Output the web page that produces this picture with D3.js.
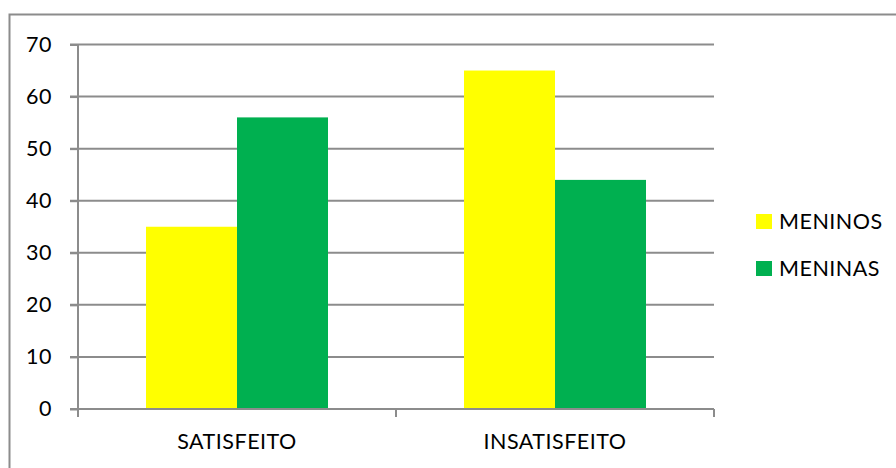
<!DOCTYPE html>
<html>
<head>
<meta charset="utf-8">
<script src="https://cdn.jsdelivr.net/npm/d3@7"></script>
<style>
  html, body { margin: 0; padding: 0; background: #fff; }
  svg { display: block; }
  text { font-family: Lato, "Open Sans", sans-serif; fill: #000; letter-spacing: 0.5px; }
</style>
</head>
<body>
<svg id="chart" width="896" height="468"></svg>
<script>
// Satisfaction survey: boys vs girls
const categories = ["SATISFEITO", "INSATISFEITO"];
const seriesNames = ["MENINOS", "MENINAS"];
const meninos = [35, 65];
const meninas = [56, 44];
const yTicks = [0, 10, 20, 30, 40, 50, 60, 70];
const colors = ["#FFFF00", "#00B050"];

const svg = d3.select("#chart");
const FS = 21.5;

// chart frame (extends past the right/bottom edge of the page)
svg.append("rect")
  .attr("x", 9.5).attr("y", 14.5)
  .attr("width", 900).attr("height", 470)
  .attr("fill", "#fff").attr("stroke", "#8c8c8c").attr("stroke-width", 2);

const plot = { left: 78, right: 714, top: 44.5, bottom: 409 };

const x0 = d3.scaleBand().domain(categories).range([plot.left, plot.right]).paddingInner(0).paddingOuter(0);
const x1 = d3.scaleBand().domain(seriesNames).range([68, x0.bandwidth() - 68]).padding(0);
const y = d3.scaleLinear().domain([0, 70]).range([plot.bottom, plot.top]);

const gridColor = "#8c8c8c";

// horizontal gridlines
svg.append("g").selectAll("line").data(yTicks.filter(t => t > 0)).join("line")
  .attr("x1", plot.left - 8).attr("x2", plot.right)
  .attr("y1", d => y(d)).attr("y2", d => y(d))
  .attr("stroke", gridColor).attr("stroke-width", 2);

// bars
const rows = categories.map((c, i) => ({ cat: c, vals: [meninos[i], meninas[i]] }));
svg.append("g").selectAll("g").data(rows).join("g")
  .attr("transform", d => `translate(${x0(d.cat)},0)`)
  .selectAll("rect").data(d => d.vals.map((v, j) => ({ s: seriesNames[j], v, j }))).join("rect")
  .attr("x", d => x1(d.s)).attr("width", x1.bandwidth())
  .attr("y", d => y(d.v)).attr("height", d => y(0) - y(d.v))
  .attr("fill", d => colors[d.j]);

// y axis
const yAxis = svg.append("g").attr("transform", `translate(${plot.left},0)`)
  .call(d3.axisLeft(y).tickValues(yTicks).tickSize(8).tickPadding(18).tickFormat(d3.format("d")));
yAxis.select(".domain").attr("stroke", gridColor).attr("stroke-width", 2).attr("d", `M0,${plot.top}V${plot.bottom}`);
yAxis.selectAll(".tick line").attr("stroke", gridColor).attr("stroke-width", 2);
yAxis.selectAll(".tick text").attr("font-size", FS).attr("font-family", "Lato, sans-serif").attr("fill", "#000");

// x axis
const xAxis = svg.append("g").attr("transform", `translate(0,${plot.bottom})`)
  .call(d3.axisBottom(x0).tickSize(0).tickPadding(0));
xAxis.select(".domain").attr("stroke", gridColor).attr("stroke-width", 2).attr("d", `M${plot.left - 8},0H${plot.right}`);
xAxis.selectAll(".tick text").remove();
xAxis.selectAll(".tick line").remove();
// category boundary ticks
const bounds = [plot.left, x0(categories[1]), plot.right];
xAxis.selectAll(".bound").data(bounds).join("line").attr("class", "bound")
  .attr("x1", d => d).attr("x2", d => d).attr("y1", 0).attr("y2", 8)
  .attr("stroke", gridColor).attr("stroke-width", 2);
// category labels
svg.append("g").selectAll("text").data(categories).join("text")
  .attr("x", d => x0(d) + x0.bandwidth() / 2).attr("y", 449)
  .attr("text-anchor", "middle").attr("font-size", FS)
  .text(d => d);

// legend
const legend = svg.append("g").attr("transform", "translate(756,214)");
const items = legend.selectAll("g").data(seriesNames).join("g")
  .attr("transform", (d, i) => `translate(0,${i * 47})`);
items.append("rect").attr("width", 16).attr("height", 15).attr("fill", (d, i) => colors[i]);
items.append("text").attr("x", 23).attr("y", 15).attr("font-size", FS).text(d => d);
</script>
</body>
</html>
